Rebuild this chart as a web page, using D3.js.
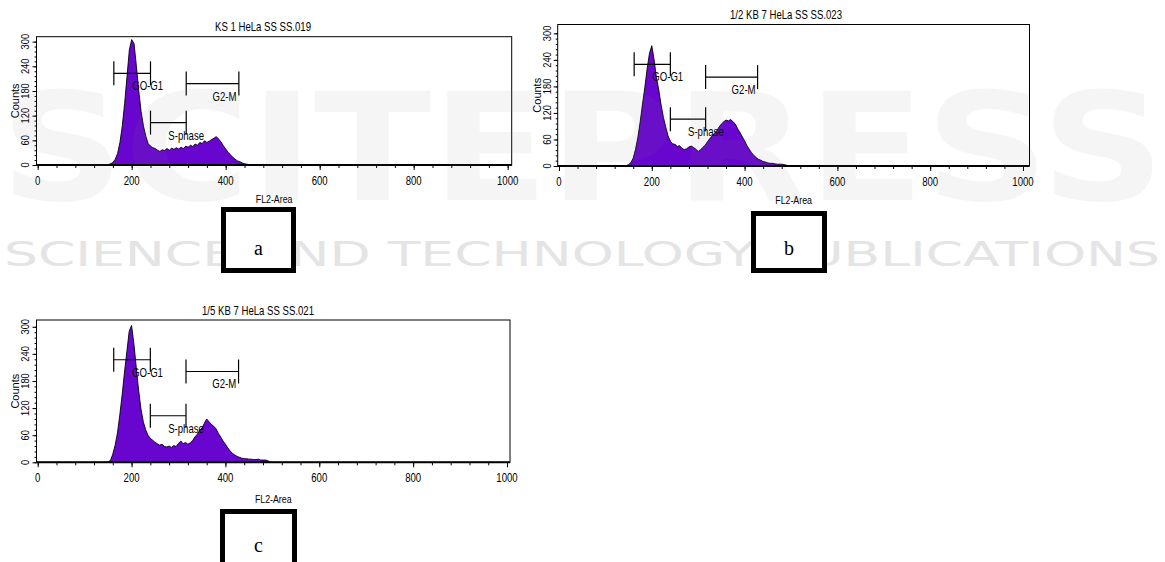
<!DOCTYPE html>
<html>
<head>
<meta charset="utf-8">
<script src="https://cdn.jsdelivr.net/npm/d3@7"></script>
<style>
  body { margin: 0; background: #fff; }
  svg { display: block; }
  text { font-family: "Liberation Sans", Arial, sans-serif; }
</style>
</head>
<body>
<svg width="1165" height="562"></svg>
<script>
// histogram channels (FL2-Area) and counts
var channels = [140,145,150,155,160,165,170,175,180,185,190,195,200,205,210,215,220,225,230,235,
  240,245,250,255,260,265,270,275,280,285,290,295,300,305,310,315,320,325,330,335,
  340,345,350,355,360,365,370,375,380,385,390,395,400,405,410,415,420,425,430,435,
  440,445,450,455,460,465,470,475,480,485,490,495,500];

var countsA = [0,0,1,3,6,14,28,55,95,150,215,280,305,295,240,180,130,95,70,52,
  46,42,40,36,33,37,35,40,36,41,38,42,39,43,40,46,43,48,45,51,
  48,55,52,59,55,58,62,65,69,63,56,47,39,31,25,19,14,10,8,5,
  3,2,1,0,0,0,0,0,0,0,0,0,0];

var countsB = [0,1,3,8,18,38,65,100,140,178,220,255,272,240,200,172,138,110,88,68,
  56,50,49,44,46,40,37,39,43,45,42,38,33,37,42,47,55,62,68,74,
  80,88,95,100,104,102,105,100,95,84,76,66,57,46,38,30,24,19,15,13,
  10,9,7,6,6,5,4,4,4,3,2,0,0];

var countsC = [0,0,1,4,18,38,65,105,150,200,245,290,303,262,210,160,118,90,72,60,
  53,49,44,41,38,40,35,34,36,33,37,35,42,47,41,44,40,43,48,56,
  62,70,76,86,96,90,84,80,74,64,56,47,40,32,25,20,16,13,11,9,
  8,8,7,7,6,6,7,5,5,5,4,0,0];

var titles = ["KS 1 HeLa SS SS.019", "1/2 KB 7 HeLa SS SS.023", "1/5 KB 7 HeLa SS SS.021"];
var panelLetters = ["a", "b", "c"];

// gate markers (same channel ranges, drawn at slightly different count levels)
var gateNames = ["GO-G1", "S-phase", "G2-M"];
var gateFrom = [162, 240, 316];
var gateTo = [240, 316, 428];
var gateLevelA = [223, 103, 198];
var gateLevelB = [230, 106, 201];
var gateLevelC = [227, 103, 201];

var xTicks = [0, 200, 400, 600, 800, 1000];
var yTicks = [0, 60, 120, 180, 240, 300];
var xLabel = "FL2-Area";
var yLabel = "Counts";

var svg = d3.select("svg");

// condensed text: no narrow font installed, so squeeze horizontally
function narrowText(parent, x, y, str, size, anchor) {
  return parent.append("g")
    .attr("transform", "translate(" + x + "," + y + ") scale(0.8,1)")
    .append("text")
    .attr("text-anchor", anchor || "start")
    .style("font-size", size + "px")
    .text(str);
}

// faint publisher watermark behind everything
svg.append("text")
  .attr("x", 4).attr("y", 266)
  .attr("textLength", 1156).attr("lengthAdjust", "spacingAndGlyphs")
  .style("font-family", "DejaVu Sans").style("font-size", "34px")
  .style("fill", "#e4e4e4")
  .text("SCIENCE AND TECHNOLOGY PUBLICATIONS");

var panels = [
  { counts: countsA, levels: gateLevelA, left: 36.5, x0: 37.7, x1000: 507.7, right: 511.7, top: 36.7, bottom: 165, ymax: 312, titleX: 263, titleY: 31, xlabY: 203, box: [223.5, 209.5, 70, 61], letterY: 255 },
  { counts: countsB, levels: gateLevelB, left: 557.7, x0: 559, x1000: 1023, right: 1029.5, top: 24.5, bottom: 166, ymax: 320, titleX: 786, titleY: 19, xlabY: 204, box: [753.5, 213.5, 71, 57], letterY: 255 },
  { counts: countsC, levels: gateLevelC, left: 36.5, x0: 37.7, x1000: 507, right: 510, top: 320, bottom: 462.3, ymax: 315, titleX: 258, titleY: 315, xlabY: 503, box: [222.5, 511.5, 72, 70], letterY: 552 }
];

panels.forEach(function(p, i) {
  var g = svg.append("g");
  var x = d3.scaleLinear().domain([0, 1000]).range([p.x0, p.x1000]);
  var y = d3.scaleLinear().domain([0, p.ymax]).range([p.bottom, p.top]);

  narrowText(g, p.titleX, p.titleY, titles[i], 12, "middle");

  // plot frame
  g.append("rect")
    .attr("x", p.left).attr("y", p.top)
    .attr("width", p.right - p.left).attr("height", p.bottom - p.top)
    .attr("fill", "none").attr("stroke", "#000").attr("stroke-width", 1);

  // histogram
  var pts = channels.map(function(c, k) { return [c, p.counts[k]]; });
  var area = d3.area()
    .x(function(d) { return x(d[0]); })
    .y0(p.bottom)
    .y1(function(d) { return y(d[1]); });
  var line = d3.line()
    .x(function(d) { return x(d[0]); })
    .y(function(d) { return y(d[1]); });
  g.append("path").datum(pts).attr("d", area).attr("fill", "#6806cf");
  g.append("path").datum(pts).attr("d", line)
    .attr("fill", "none").attr("stroke", "#000").attr("stroke-width", 0.9);

  // x axis: minor ticks every 40, labelled ticks every 200
  var xAxisMinor = d3.axisBottom(x).tickValues(d3.range(0, 1001, 40)).tickSize(3).tickFormat("");
  var xAxis = d3.axisBottom(x).tickValues(xTicks).tickSize(5).tickFormat("");
  var ax1 = g.append("g").attr("transform", "translate(0," + p.bottom + ")").call(xAxisMinor);
  var ax2 = g.append("g").attr("transform", "translate(0," + p.bottom + ")").call(xAxis);
  [ax1, ax2].forEach(function(a) { a.select(".domain").remove(); });
  xTicks.forEach(function(t) {
    narrowText(g, x(t), p.bottom + 20, String(t), 12, "middle");
  });
  g.append("line")
    .attr("x1", p.left).attr("x2", p.right)
    .attr("y1", p.bottom).attr("y2", p.bottom)
    .attr("stroke", "#000").attr("stroke-width", 2);

  // y axis: minor ticks every 12, labels rotated
  var yAxisMinor = d3.axisLeft(y).tickValues(d3.range(0, 301, 12)).tickSize(2).tickFormat("");
  var yAxis = d3.axisLeft(y).tickValues(yTicks).tickSize(4).tickFormat("");
  var ay1 = g.append("g").attr("transform", "translate(" + p.left + ",0)").call(yAxisMinor);
  var ay2 = g.append("g").attr("transform", "translate(" + p.left + ",0)").call(yAxis);
  [ay1, ay2].forEach(function(a) { a.select(".domain").remove(); });
  g.selectAll(".ylab").data(yTicks).join("text")
    .attr("transform", function(d) { return "translate(" + (p.left - 11) + "," + y(d) + ") rotate(-90) scale(0.85,1)"; })
    .attr("text-anchor", "middle").attr("dy", "0.35em")
    .style("font-size", "11px")
    .text(function(d) { return d; });

  g.append("text")
    .attr("transform", "translate(" + (p.left - 21) + "," + ((p.top + p.bottom) / 2) + ") rotate(-90)")
    .attr("text-anchor", "middle").attr("dy", "0.35em")
    .style("font-size", "11px")
    .text(yLabel);

  narrowText(g, (p.left + p.right) / 2, p.xlabY, xLabel, 11, "middle");

  // gate markers
  gateNames.forEach(function(name, k) {
    var gy = y(p.levels[k]);
    var xa = x(gateFrom[k]), xb = x(gateTo[k]);
    g.append("line").attr("x1", xa).attr("x2", xb).attr("y1", gy).attr("y2", gy)
      .attr("stroke", "#000").attr("stroke-width", 1.2);
    [xa, xb].forEach(function(xx) {
      g.append("line").attr("x1", xx).attr("x2", xx).attr("y1", gy - 12).attr("y2", gy + 12)
        .attr("stroke", "#000").attr("stroke-width", 1.2);
    });
    narrowText(g, x((gateFrom[k] + gateTo[k]) / 2), gy + 17, name, 12, "start");
  });

  // panel letter box
  g.append("rect")
    .attr("x", p.box[0]).attr("y", p.box[1]).attr("width", p.box[2]).attr("height", p.box[3])
    .attr("fill", "#fff").attr("stroke", "#000").attr("stroke-width", 5);
  g.append("text")
    .attr("x", p.box[0] + p.box[2] / 2).attr("y", p.letterY)
    .attr("text-anchor", "middle")
    .style("font-family", "Liberation Serif, Times New Roman, serif").style("font-size", "20px")
    .text(panelLetters[i]);
});

// large faint lettering laid over the plots
svg.append("text")
  .attr("x", 0).attr("y", 200)
  .attr("textLength", 1165).attr("lengthAdjust", "spacingAndGlyphs")
  .style("font-family", "DejaVu Sans").style("font-size", "150px").style("font-weight", "bold")
  .style("fill", "#808080").style("fill-opacity", 0.08)
  .text("SCITEPRESS");
</script>
</body>
</html>
